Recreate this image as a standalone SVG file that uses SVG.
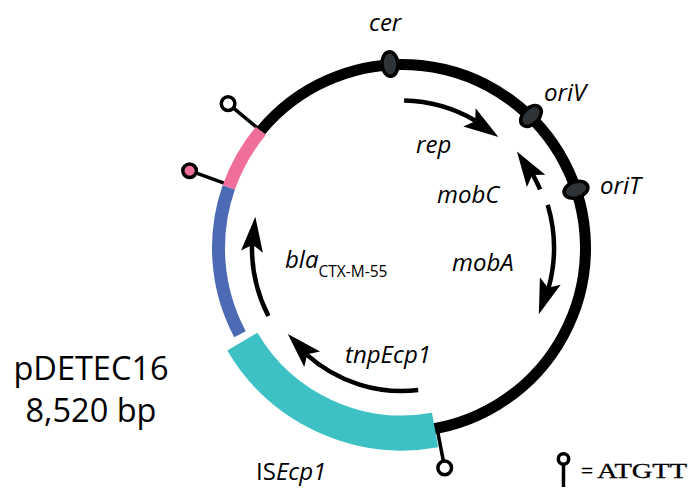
<svg xmlns="http://www.w3.org/2000/svg" xmlns:xlink="http://www.w3.org/1999/xlink" width="693" height="498" viewBox="0 0 693 498">
  <style>
    .lbl { font-family: "Open Sans", "Noto Sans", sans-serif; font-style: italic; font-size: 24px; fill: #000; }
    .title { font-family: "Open Sans", "Noto Sans", sans-serif; font-size: 32.5px; fill: #000; text-anchor: middle; }
    .sub { font-family: "Open Sans", "Noto Sans", sans-serif; font-style: normal; font-size: 15.5px; }
    .seq { font-family: "Liberation Serif", "DejaVu Serif", serif; font-size: 20px; fill: #000; stroke: #000; stroke-width: 0.3; }
    .ring { fill: none; stroke-linecap: butt; }
    .shaft { fill: none; stroke: #000; stroke-width: 4.5; }
    .ori { fill: #2d3337; stroke: #000; stroke-width: 3.5; }
    .stem { stroke: #000; stroke-width: 3.5; }
    .pin { stroke: #000; stroke-width: 3.5; fill: #fff; }
  </style>
  <defs>
    <!-- barbed arrowhead, tip at origin pointing along +x -->
    <path id="head" d="M0,0 L-35,-11 L-28,0 L-35,11 Z" fill="#000"/>
  </defs>

  <!-- ATGTT sites (stems sit under the backbone) -->
  <g id="site-1">
    <line class="stem" x1="260.8" y1="130.8" x2="228.1" y2="103.6"/>
    <circle class="pin" cx="228.1" cy="103.6" r="6.8"/>
  </g>
  <g id="site-2">
    <line class="stem" x1="229.6" y1="185.2" x2="189.6" y2="170.7"/>
    <circle class="pin" cx="189.6" cy="170.7" r="6.8" style="fill:#f06e9c"/>
  </g>
  <g id="site-3">
    <line class="stem" x1="437.0" y1="428.1" x2="444.7" y2="467.9"/>
    <circle class="pin" cx="444.7" cy="467.9" r="6.8"/>
  </g>

  <!-- plasmid backbone -->
  <g id="backbone">
    <path class="ring" d="M260.8,130.8 A183.5,183.5 0 1 1 418.0,430.8" stroke="#000" stroke-width="11"/>
    <path class="ring" d="M240.0,334.2 A183.5,183.5 0 0 1 228.8,187.4" stroke="#4c6bb4" stroke-width="13"/>
    <path class="ring" d="M228.8,187.4 A183.5,183.5 0 0 1 260.8,130.8" stroke="#f06e9c" stroke-width="13"/>
  </g>

  <!-- insertion sequence ISEcp1 -->
  <g id="ISEcp1">
    <path class="ring" d="M435.1,430.0 A185,185 0 0 1 242.4,341.6" stroke="#3dc1c4" stroke-width="35"/>
    <text class="lbl" x="256" y="480"><tspan style="font-style:normal">IS</tspan>Ecp1</text>
  </g>

  <!-- origins / sites on the backbone -->
  <g id="cer">
    <ellipse class="ori" cx="390" cy="64" rx="8" ry="12.3" transform="rotate(-3.75 390 64)"/>
    <text class="lbl" x="369" y="31">cer</text>
  </g>
  <g id="oriV">
    <ellipse class="ori" cx="531" cy="116" rx="8" ry="12.3" transform="rotate(44.3 531 116)"/>
    <text class="lbl" x="544" y="101">oriV</text>
  </g>
  <g id="oriT">
    <ellipse class="ori" cx="576" cy="189.8" rx="8" ry="12.3" transform="rotate(71.5 576 189.8)"/>
    <text class="lbl" x="600" y="194">oriT</text>
  </g>

  <!-- genes -->
  <g id="genes">
    <g id="rep">
      <path class="shaft" d="M404.1,100.5 A147,147 0 0 1 475.5,120.7"/>
      <use xlink:href="#head" transform="translate(498.4,137.1) rotate(34.2)"/>
      <text class="lbl" x="416" y="153">rep</text>
    </g>
    <g id="mobC">
      <path class="shaft" d="M540.1,189.4 A150,150 0 0 0 532.8,174.6"/>
      <use xlink:href="#head" transform="translate(516.9,151.6) rotate(-123.3)"/>
      <text class="lbl" x="437" y="203">mobC</text>
    </g>
    <g id="mobA">
      <path class="shaft" d="M547.7,204.8 A152,152 0 0 1 548.6,288.0"/>
      <use xlink:href="#head" transform="translate(538.8,314.2) rotate(109.2)"/>
      <text class="lbl" x="452" y="271">mobA</text>
    </g>
    <g id="bla">
      <path class="shaft" d="M268.4,316.1 A150,150 0 0 1 252.0,244.6"/>
      <use xlink:href="#head" transform="translate(255.3,216.8) rotate(-84.6)"/>
      <text class="lbl" x="285" y="268">bla<tspan class="sub" dy="8.5">CTX-M-55</tspan></text>
    </g>
    <g id="tnpEcp1">
      <path class="shaft" d="M418.2,390.1 A143,143 0 0 1 306.7,354.6"/>
      <use xlink:href="#head" transform="translate(287.8,334.1) rotate(-134.1)"/>
      <text class="lbl" x="345" y="363">tnpEcp1</text>
    </g>
  </g>

  <!-- plasmid name and size -->
  <g id="title">
    <text class="title" x="91" y="380">pDETEC16</text>
    <text class="title" x="91" y="422">8,520 bp</text>
  </g>

  <!-- key -->
  <g id="legend">
    <line class="stem" x1="563.5" y1="465" x2="563.5" y2="487"/>
    <circle class="pin" cx="563.5" cy="459" r="5.2"/>
    <text class="seq" x="581" y="478" textLength="12" lengthAdjust="spacingAndGlyphs">=</text>
    <text class="seq" x="597" y="478" textLength="90" lengthAdjust="spacingAndGlyphs">ATGTT</text>
  </g>
</svg>
